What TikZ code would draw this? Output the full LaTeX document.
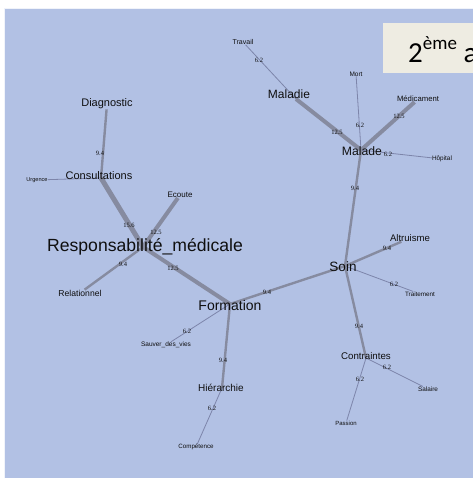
\documentclass[tikz,border=0pt]{standalone}
\usepackage{fontspec}
\setmainfont{Liberation Sans}
\newfontfamily\numfont{Liberation Serif}
\newfontfamily\titlefont{Carlito}
\definecolor{panel}{RGB}{178,193,228}
\definecolor{edgec}{RGB}{134,139,160}
\definecolor{thinc}{RGB}{125,133,170}
\definecolor{boxc}{RGB}{238,236,226}
\definecolor{txt}{RGB}{15,15,15}
\pgfdeclarelayer{back}
\pgfdeclarelayer{edges}
\pgfsetlayers{back,edges,main}
\tikzset{
  lbl/.style={font=\fontsize{#1}{#1}\selectfont, inner sep=0pt, text=txt},
  wt/.style={font=\numfont\fontsize{6.5}{6.5}\selectfont, inner sep=0pt, text=txt},
  wA/.style={draw=edgec, line width=5pt},
  wB/.style={draw=edgec, line width=4pt},
  wC/.style={draw=edgec, line width=2.4pt},
  wD/.style={draw=thinc, line width=0.8pt},
}
\begin{document}
\begin{tikzpicture}[x=1pt,y=-1pt]
\useasboundingbox (0,0) rectangle (473,479);
\begin{pgfonlayer}{back}
  \fill[white] (0,0) rectangle (473,479);
  \fill[panel] (4,8) rectangle (473,478);
  \draw[white!80!panel, line width=0.8pt] (4.4,478) -- (4.4,8.4) -- (473,8.4);
\end{pgfonlayer}

% junction points of the hubs
\coordinate (maladie) at (296,99);
\coordinate (malade) at (361,150);
\coordinate (consult) at (101,178);
\coordinate (resp) at (143,247);
\coordinate (formation) at (230,304);
\coordinate (soin) at (345,266);
\coordinate (hier) at (222,388);
\coordinate (contr) at (366,358);

% hub captions
\node[lbl=12] (maladieT) at (289,94) {Maladie};
\node[lbl=12.2] (maladeT) at (362,151) {Malade};
\node[lbl=11] (consultT) at (99,176) {Consultations};
\node[lbl=17.6] (respT) at (145,247) {Responsabilité\_médicale};
\node[lbl=14] (formationT) at (230,305) {Formation};
\node[lbl=13.5] (soinT) at (343,267) {Soin};
\node[lbl=10] (hierT) at (221,388) {Hiérarchie};
\node[lbl=9.7] (contrT) at (366,356) {Contraintes};

% leaf words
\node[lbl=7] (travail) at (243,42) {Travail};
\node[lbl=6.5] (mort) at (356,74) {Mort};
\node[lbl=7.7] (medic) at (418,99) {Médicament};
\node[lbl=6.4] (hopital) at (442,159) {Hôpital};
\node[lbl=11] (diag) at (107,104) {Diagnostic};
\node[lbl=5.6] (urgence) at (37,180) {Urgence};
\node[lbl=8] (ecoute) at (180,195) {Ecoute};
\node[lbl=8.6] (relat) at (80,293) {Relationnel};
\node[lbl=9.6] (altru) at (410,238) {Altruisme};
\node[lbl=6.3] (trait) at (420,294) {Traitement};
\node[lbl=6.5] (sauver) at (166,345) {Sauver\_des\_vies};
\node[lbl=6.2] (compet) at (196,447) {Compétence};
\node[lbl=6.4] (salaire) at (428,389) {Salaire};
\node[lbl=6] (passion) at (346,423) {Passion};

% connectors, widths follow the weights
\begin{pgfonlayer}{edges}
  \draw[wD] (travail) -- (maladie);
  \draw[wB] (maladie) -- (malade);
  \draw[wD] (mort) -- (malade);
  \draw[wB] (medic) -- (malade);
  \draw[wD] (malade) -- (hopital);
  \draw[wC] (malade) -- (soin);
  \draw[wC] (diag) -- (consult);
  \draw[wD] (urgence) -- (consult);
  \draw[wA] (consult) -- (resp);
  \draw[wB] (ecoute) -- (resp);
  \draw[wC] (resp) -- (relat);
  \draw[wB] (resp) -- (formation);
  \draw[wD] (formation) -- (sauver);
  \draw[wC] (formation) -- (hier);
  \draw[wD] (hier) -- (compet);
  \draw[wC] (formation) -- (soin);
  \draw[wC] (soin) -- (altru);
  \draw[wD] (soin) -- (trait);
  \draw[wC] (soin) -- (contr);
  \draw[wD] (contr) -- (salaire);
  \draw[wD] (contr) -- (passion);
\end{pgfonlayer}

% weights
\node[wt] (w1) at (259,60) {6.2};
\node[wt] (w2) at (337,132) {12.5};
\node[wt] (w3) at (360,125) {6.2};
\node[wt] (w4) at (399,116) {12.5};
\node[wt] (w5) at (388,154) {6.2};
\node[wt] (w6) at (355,188) {9.4};
\node[wt] (w7) at (100,153) {9.4};
\node[wt] (w8) at (129,225) {15.6};
\node[wt] (w9) at (156,232) {12.5};
\node[wt] (w10) at (123,264) {9.4};
\node[wt] (w11) at (173,268) {12.5};
\node[wt] (w12) at (187,331) {6.2};
\node[wt] (w13) at (223,360) {9.4};
\node[wt] (w14) at (212,408) {6.2};
\node[wt] (w15) at (267,292) {9.4};
\node[wt] (w16) at (387,248) {9.4};
\node[wt] (w17) at (394,284) {6.2};
\node[wt] (w18) at (359,326) {9.4};
\node[wt] (w19) at (387,367) {6.2};
\node[wt] (w20) at (360,379) {6.2};

% title card in the corner, running off the right edge
\begin{scope}
  \clip (0,0) rectangle (473,479);
  \fill[boxc] (383,23) rectangle (480,73);
  \node[anchor=base west, inner sep=0pt, font=\titlefont\fontsize{29}{29}\selectfont] (title) at (408,62.5)
    {2\raisebox{13pt}{\fontsize{19}{19}\selectfont ème} année};
\end{scope}
\end{tikzpicture}
\end{document}
